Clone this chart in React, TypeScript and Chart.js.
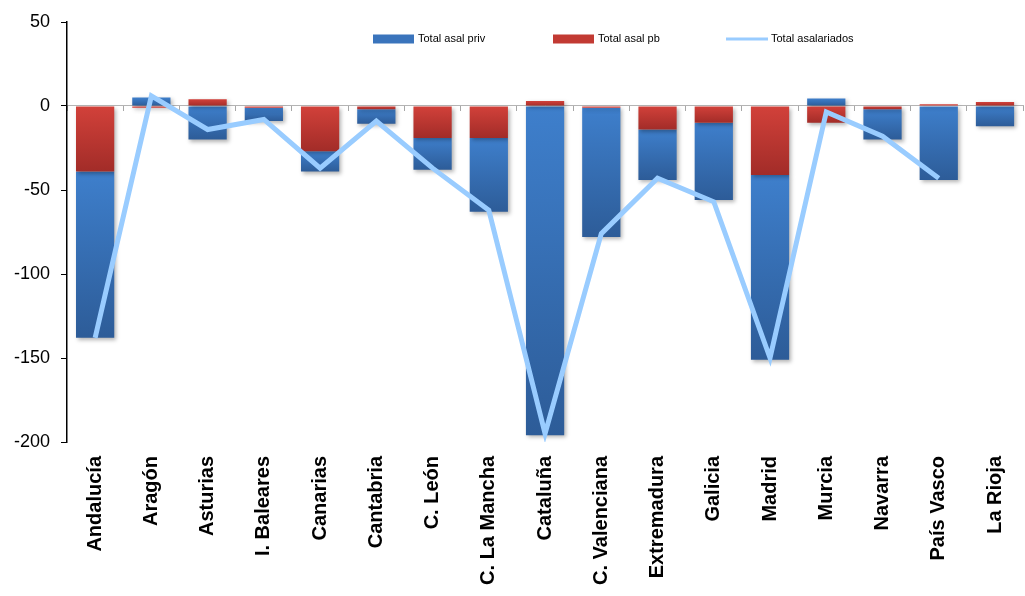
import { useEffect, useRef } from "react";
import { Chart, registerables } from "chart.js";

Chart.register(...registerables);

const categories = [
  "Andalucía", "Aragón", "Asturias", "I. Baleares", "Canarias", "Cantabria",
  "C. León", "C. La Mancha", "Cataluña", "C. Valenciana", "Extremadura",
  "Galicia", "Madrid", "Murcia", "Navarra", "País Vasco", "La Rioja",
];
const asalPriv = [-99, 5, -20, -8, -12, -8.5, -19, -44, -196, -77, -30, -46, -110, 4.5, -18, -44, -12];
const asalPb = [-39, -1, 4, -1, -27, -2, -19, -19, 3, -1, -14, -10, -41, -10, -2, 1, 2.4];
const totalAsalariados: (number | null)[] = [-138, 6, -14, -8, -37, -9, -37, -62, -195, -76, -43, -57, -150, -3.5, -18, -43, null];
const yTicks = [50, 0, -50, -100, -150, -200];
const seriesLabels = ["Total asal priv", "Total asal pb", "Total asalariados"];

const FONT = "'Liberation Sans', Arial, sans-serif";
const BLUE_LIGHT = "#3E7FCC";
const BLUE_DARK = "#2D5C98";
const RED_LIGHT = "#D2413A";
const RED_DARK = "#A22C28";
const LINE_COLOR = "#99CCFF";

function segGradient(ctx: any, light: string, dark: string, start: number, end: number) {
  const chart = ctx.chart;
  const y = chart.scales && chart.scales.y;
  if (!y || !chart.chartArea) return light;
  const p0 = y.getPixelForValue(start);
  const p1 = y.getPixelForValue(end);
  if (!isFinite(p0) || !isFinite(p1) || Math.abs(p1 - p0) < 2) return light;
  const g = chart.ctx.createLinearGradient(0, Math.min(p0, p1), 0, Math.max(p0, p1));
  g.addColorStop(0, light);
  g.addColorStop(1, dark);
  return g;
}

const shadowPlugin = {
  id: "barShadow",
  beforeDatasetDraw(chart: any, args: any) {
    if (args.meta.type === "bar") {
      const c = chart.ctx;
      c.save();
      c.shadowColor = "rgba(0,0,0,0.3)";
      c.shadowBlur = 4;
      c.shadowOffsetX = 2;
      c.shadowOffsetY = 2;
    }
  },
  afterDatasetDraw(chart: any, args: any) {
    if (args.meta.type === "bar") chart.ctx.restore();
  },
};

const legendPlugin = {
  id: "topLegend",
  afterDraw(chart: any) {
    const c = chart.ctx;
    c.save();
    const yMid = 39;
    const items = [
      { x: 373, kind: "box", color: "#3A74BC", label: seriesLabels[0] },
      { x: 553, kind: "box", color: "#C23A33", label: seriesLabels[1] },
      { x: 726, kind: "line", color: LINE_COLOR, label: seriesLabels[2] },
    ];
    c.font = `11px ${FONT}`;
    c.textBaseline = "middle";
    c.textAlign = "left";
    for (const it of items) {
      if (it.kind === "box") {
        c.fillStyle = it.color;
        c.fillRect(it.x, yMid - 4.5, 41, 9);
      } else {
        c.strokeStyle = it.color;
        c.lineWidth = 3;
        c.beginPath();
        c.moveTo(it.x, yMid);
        c.lineTo(it.x + 42, yMid);
        c.stroke();
      }
      c.fillStyle = "#000";
      c.fillText(it.label, it.x + 45, yMid);
    }
    c.restore();
  },
};

export default function App() {
  const canvasRef = useRef<HTMLCanvasElement | null>(null);

  useEffect(() => {
    if (!canvasRef.current) return;
    const chart = new Chart(canvasRef.current, {
      type: "bar",
      data: {
        labels: categories,
        datasets: [
          {
            type: "bar",
            label: seriesLabels[0],
            data: asalPriv,
            stack: "bars",
            order: 2,
            backgroundColor: (ctx: any) => {
              const i = ctx.dataIndex;
              const v = asalPriv[i];
              const pb = asalPb[i];
              if (v === undefined) return BLUE_LIGHT;
              const base = Math.sign(pb) === Math.sign(v) ? pb : 0;
              return segGradient(ctx, BLUE_LIGHT, BLUE_DARK, base, base + v);
            },
            borderWidth: 0,
            categoryPercentage: 1,
            barPercentage: 0.68,
          },
          {
            type: "bar",
            label: seriesLabels[1],
            data: asalPb,
            stack: "bars",
            order: 1,
            backgroundColor: (ctx: any) => {
              const v = asalPb[ctx.dataIndex];
              if (v === undefined) return RED_LIGHT;
              return segGradient(ctx, RED_LIGHT, RED_DARK, 0, v);
            },
            borderWidth: 0,
            categoryPercentage: 1,
            barPercentage: 0.68,
          },
          {
            type: "line",
            label: seriesLabels[2],
            data: totalAsalariados,
            stack: "line",
            order: 0,
            borderColor: LINE_COLOR,
            borderWidth: 5,
            pointRadius: 0,
            pointHoverRadius: 0,
            tension: 0,
            fill: false,
            spanGaps: false,
            borderJoinStyle: "miter",
          } as any,
        ],
      },
      options: {
        responsive: false,
        animation: false,
        layout: { padding: { top: 22, right: 0, bottom: 0, left: 0 } },
        plugins: {
          legend: { display: false },
          tooltip: { enabled: false },
        },
        scales: {
          x: {
            type: "category",
            position: "bottom",
            stacked: true,
            offset: true,
            grid: { display: false },
            border: { display: false },
            ticks: {
              autoSkip: false,
              maxRotation: 90,
              minRotation: 90,
              padding: 6,
              color: "#000",
              font: { family: FONT, size: 20, weight: "bold" },
            },
            afterFit: (s: any) => {
              s.height = 154;
            },
          },
          x0: {
            type: "category",
            labels: categories,
            position: { y: 0 } as any,
            offset: true,
            ticks: { display: false },
            grid: {
              display: true,
              drawOnChartArea: false,
              drawTicks: true,
              tickLength: 5,
              color: "#a8a8a8",
              offset: true,
            },
            border: { display: true, color: "#b4b4b4", width: 1 },
          },
          y: {
            stacked: true,
            min: -200,
            max: 50,
            afterBuildTicks: (s: any) => {
              s.ticks = yTicks.map((v) => ({ value: v }));
            },
            grid: {
              display: true,
              drawOnChartArea: false,
              drawTicks: true,
              tickLength: 6,
              color: "#000",
            },
            border: { display: true, color: "#000", width: 1.5 },
            ticks: {
              padding: 11,
              color: "#000",
              font: { family: FONT, size: 18 },
            },
            afterFit: (s: any) => {
              s.width = 67;
            },
          },
        },
      } as any,
      plugins: [shadowPlugin, legendPlugin],
    });
    return () => chart.destroy();
  }, []);

  return (
    <div style={{ position: "fixed", left: 0, top: 0, width: 1025, height: 596, background: "#fff" }}>
      <canvas ref={canvasRef} width={1025} height={596} style={{ display: "block" }} />
    </div>
  );
}
